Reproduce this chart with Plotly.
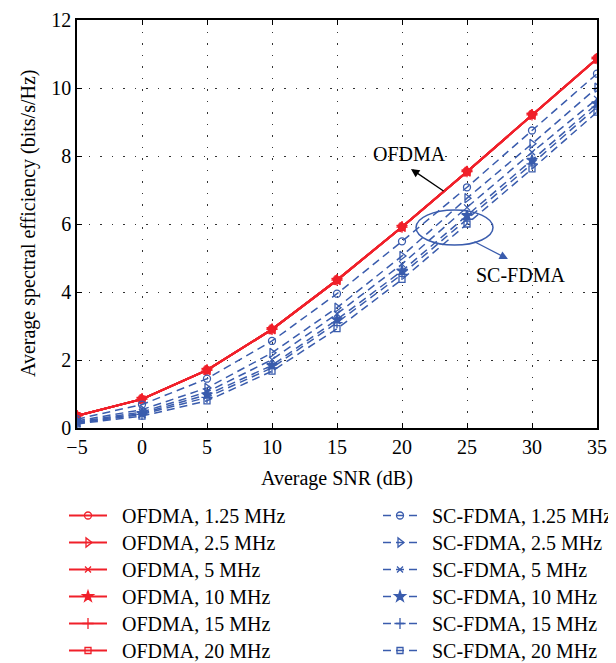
import plotly.graph_objects as go

snr_db = [-5, 0, 5, 10, 15, 20, 25, 30, 35]
bandwidths = ["1.25 MHz", "2.5 MHz", "5 MHz", "10 MHz", "15 MHz", "20 MHz"]

# OFDMA curves for all bandwidths coincide
ofdma_se = [0.36, 0.85, 1.70, 2.90, 4.35, 5.91, 7.54, 9.21, 10.86]

scfdma_1_25 = [0.26, 0.69, 1.45, 2.56, 3.95, 5.49, 7.08, 8.75, 10.42]
scfdma_2_5 = [0.21, 0.54, 1.18, 2.21, 3.54, 5.06, 6.76, 8.36, 10.01]
scfdma_5 = [0.18, 0.47, 1.06, 2.01, 3.36, 4.82, 6.49, 8.11, 9.68]
scfdma_10 = [0.16, 0.43, 0.98, 1.84, 3.19, 4.62, 6.25, 7.88, 9.54]
scfdma_15 = [0.14, 0.40, 0.90, 1.77, 3.10, 4.52, 6.14, 7.77, 9.44]
scfdma_20 = [0.12, 0.35, 0.80, 1.67, 2.92, 4.37, 6.00, 7.62, 9.29]
scfdma_all = [scfdma_1_25, scfdma_2_5, scfdma_5, scfdma_10, scfdma_15, scfdma_20]

x_title = "Average SNR (dB)"
y_title = "Average spectral efficiency (bits/s/Hz)"

symbols = ["circle-open", "triangle-right-open", "x-thin-open", "star",
           "cross-thin-open", "square-open"]
sizes = [7, 8, 6, 8, 8, 6]

RED = "#f0202a"
BLUE = "#3a5cad"
FONT = "Liberation Serif"
W, H = 616, 663
ML, MR, MT, MB = 69, 27, 12, 243
PW, PH = W - ML - MR, H - MT - MB

# legend layout (pixel rows/columns of the two-column legend below the axes)
row_centers = [516, 543, 570, 597, 624, 651]
col_left = [56, 370]
item_widths = [38, 34]
GAP = "\u00a0\u00a0"

fig = go.Figure()
legend_defs = {}
k = 0

for ci, (prefix, series, color, lw, dash) in enumerate([
        ("OFDMA", [ofdma_se] * 6, RED, 2, "solid"),
        ("SC-FDMA", scfdma_all, BLUE, 1.5, "8px,5px")]):
    for ri, (bw, vals, sym, sz) in enumerate(zip(bandwidths, series, symbols, sizes)):
        k += 1
        lname = "legend" if k == 1 else f"legend{k}"
        fig.add_trace(go.Scatter(
            x=snr_db, y=vals, mode="lines+markers",
            name=f"{GAP}{prefix}, {bw}",
            line=dict(color=color, width=lw, dash=dash),
            marker=dict(symbol=sym, size=sz, color=color, line=dict(color=color, width=1.3)),
            legend=lname,
        ))
        legend_defs[lname] = dict(
            font=dict(family=FONT, size=20, color="black"),
            bgcolor="rgba(0,0,0,0)", borderwidth=0,
            xref="container", yref="container",
            xanchor="left", yanchor="top",
            x=col_left[ci] / W, y=1 - (row_centers[ri] - 28) / H,
            itemwidth=item_widths[ci],
        )

# ellipse around SC-FDMA curves
fig.add_shape(type="circle", xref="x", yref="y",
              x0=21.08, x1=27.0, y0=5.38, y1=6.41,
              line=dict(color=BLUE, width=1.5))

# OFDMA arrow + label
fig.add_annotation(x=20.69, y=7.62, ax=23.31, ay=6.94, xref="x", yref="y",
                   axref="x", ayref="y", text="", showarrow=True,
                   arrowhead=2, arrowsize=1.3, arrowwidth=1.3, arrowcolor="black")
fig.add_annotation(x=20.54, y=8.06, xref="x", yref="y", text="OFDMA",
                   showarrow=False, font=dict(family=FONT, size=20, color="black"))

# SC-FDMA arrow + label
fig.add_annotation(x=28.15, y=4.97, ax=25.46, ay=5.5, xref="x", yref="y",
                   axref="x", ayref="y", text="", showarrow=True,
                   arrowhead=2, arrowsize=1.3, arrowwidth=1.3, arrowcolor=BLUE)
fig.add_annotation(x=29.15, y=4.5, xref="x", yref="y", text="SC-FDMA",
                   showarrow=False, font=dict(family=FONT, size=20, color="black"))

# axis titles
fig.add_annotation(xref="paper", yref="paper", x=0.5, y=(MT + PH - 470) / PH,
                   text=x_title, showarrow=False, xanchor="center", yanchor="middle",
                   font=dict(family=FONT, size=20, color="black"))
fig.add_annotation(xref="paper", yref="paper", x=(20 - ML) / PW, y=0.5,
                   text=y_title, showarrow=False, textangle=-90,
                   xanchor="center", yanchor="middle",
                   font=dict(family=FONT, size=20, color="black"))

axis_common = dict(
    showline=True, linecolor="black", linewidth=1.5, mirror="ticks",
    ticks="inside", ticklen=5, tickwidth=1.2, tickcolor="black",
    showgrid=True, gridcolor="#333333", gridwidth=1, griddash="1.5px,10px",
    zeroline=False,
    tickfont=dict(family=FONT, size=20, color="black"),
)

fig.update_xaxes(range=[-5, 35], dtick=5, tick0=-5, **axis_common)
fig.update_yaxes(range=[0, 12], dtick=2, **axis_common)

fig.update_layout(
    width=W, height=H,
    margin=dict(l=ML, r=MR, t=MT, b=MB, autoexpand=False),
    paper_bgcolor="white", plot_bgcolor="white",
    font=dict(family=FONT, size=20, color="black"),
    showlegend=True,
    **legend_defs,
)

fig.write_html("out.html")
